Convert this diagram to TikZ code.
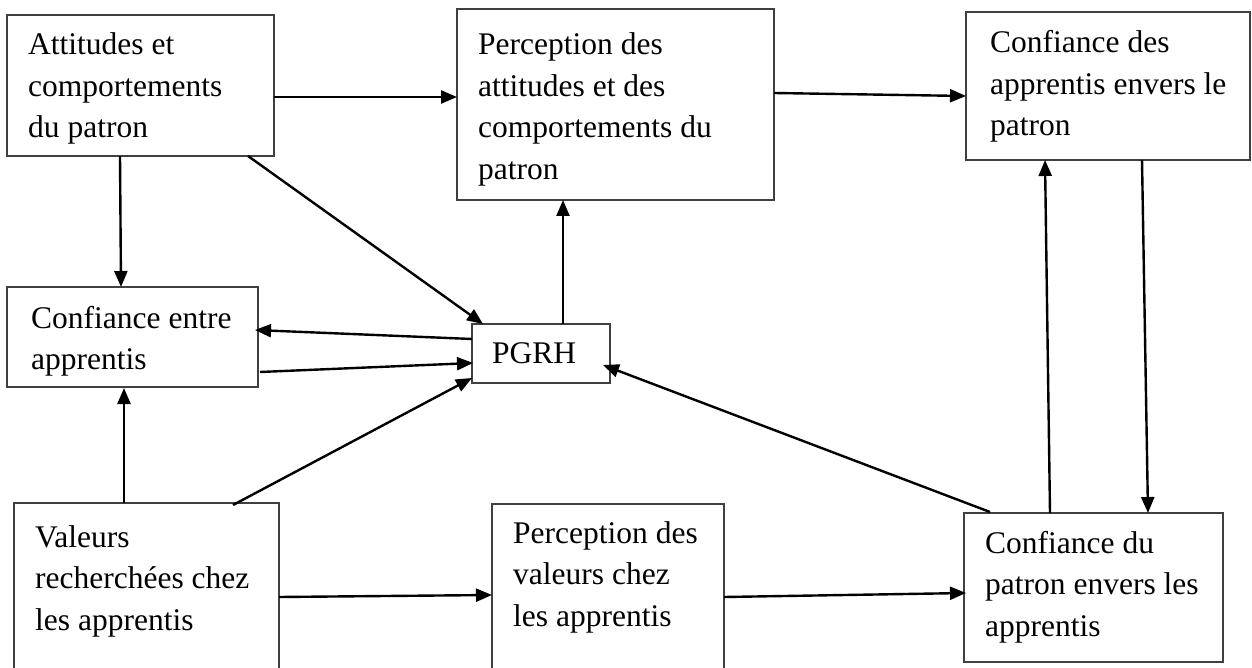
\documentclass[tikz,border=0pt]{standalone}
\usepackage{fontspec}
\setmainfont{Liberation Serif}
\usetikzlibrary{arrows.meta,calc}
\begin{document}
\begin{tikzpicture}[x=1pt,y=-1pt,
  box/.style={draw=black!75, line width=1.3pt, rectangle, inner sep=0pt, outer sep=0pt, anchor=north west},
  txt/.style={anchor=base west, inner sep=0pt, font=\fontsize{31.5}{41.5}\selectfont},
  arr/.style={line width=2.4pt, -{Triangle[length=16pt,width=13pt]}}]
\useasboundingbox (0,0) rectangle (1252,668);
\clip (0,0) rectangle (1252,668);
\fill[white] (0,0) rectangle (1252,668);
% boxes
\node[box, minimum width=267pt, minimum height=141pt] (B1) at (7,15) {};
\node[box, minimum width=317pt, minimum height=191pt] (B2) at (457,9) {};
\node[box, minimum width=284pt, minimum height=148pt] (B3) at (966,12) {};
\node[box, minimum width=251pt, minimum height=100pt] (B4) at (7,287) {};
\node[box, minimum width=138pt, minimum height=59pt] (B5) at (472,324) {};
\node[box, minimum width=265pt, minimum height=190pt] (B6) at (14,503) {};
\node[box, minimum width=232pt, minimum height=190pt] (B7) at (492,504) {};
\node[box, minimum width=259pt, minimum height=149pt] (B8) at (964,513) {};
% texts
\node[txt] (T1) at ($(B1.north west)+(21,40)$) {\begin{tabular}[t]{@{}l@{}}Attitudes et\\comportements\\du patron\end{tabular}};
\node[txt] (T2) at ($(B2.north west)+(21,46)$) {\begin{tabular}[t]{@{}l@{}}Perception des\\attitudes et des\\comportements du\\patron\end{tabular}};
\node[txt] (T3) at ($(B3.north west)+(24,41)$) {\begin{tabular}[t]{@{}l@{}}Confiance des\\apprentis envers le\\patron\end{tabular}};
\node[txt] (T4) at ($(B4.north west)+(24,41)$) {\begin{tabular}[t]{@{}l@{}}Confiance entre\\apprentis\end{tabular}};
\node[txt] (T5) at ($(B5.north west)+(20,39)$) {PGRH};
\node[txt] (T6) at ($(B6.north west)+(21,44)$) {\begin{tabular}[t]{@{}l@{}}Valeurs\\recherchées chez\\les apprentis\end{tabular}};
\node[txt] (T7) at ($(B7.north west)+(21,39)$) {\begin{tabular}[t]{@{}l@{}}Perception des\\valeurs chez\\les apprentis\end{tabular}};
\node[txt] (T8) at ($(B8.north west)+(21,40)$) {\begin{tabular}[t]{@{}l@{}}Confiance du\\patron envers les\\apprentis\end{tabular}};
% connectors
\draw[arr] ($(B1.north east)+(0,82)$) -- ($(B2.north west)+(0,88)$);
\draw[arr] ($(B2.north east)+(0,84)$) -- ($(B3.north west)+(0,84)$);
\draw[arr] ($(B1.south west)+(113,0)$) -- ($(B4.north west)+(114,0)$);
\draw[arr] ($(B1.south west)+(241,0)$) -- ($(B5.north west)+(11,0)$);
\draw[arr] ($(B5.north west)+(91,0)$) -- ($(B2.south west)+(106,0)$);
\draw[arr] ($(B5.north west)+(0,15)$) -- ($(B4.north east)+(-3,43)$);
\draw[arr] ($(B4.north east)+(2,85)$) -- ($(B5.north west)+(1,39)$);
\draw[arr] ($(B6.north west)+(110,0)$) -- ($(B4.south west)+(117,1)$);
\draw[arr] ($(B6.north west)+(219,2)$) -- ($(B5.south west)+(0,-5)$);
\draw[arr] ($(B6.north east)+(0,94)$) -- ($(B7.north west)+(0,91)$);
\draw[arr] ($(B7.north east)+(0,93)$) -- ($(B8.north west)+(2,80)$);
\draw[arr] ($(B8.north west)+(86,0)$) -- ($(B3.south west)+(79,0)$);
\draw[arr] ($(B3.south west)+(176,0)$) -- ($(B8.north west)+(184,0)$);
\draw[arr] ($(B8.north west)+(26,-1)$) -- ($(B5.south east)+(-7,-18)$);
\end{tikzpicture}
\end{document}
